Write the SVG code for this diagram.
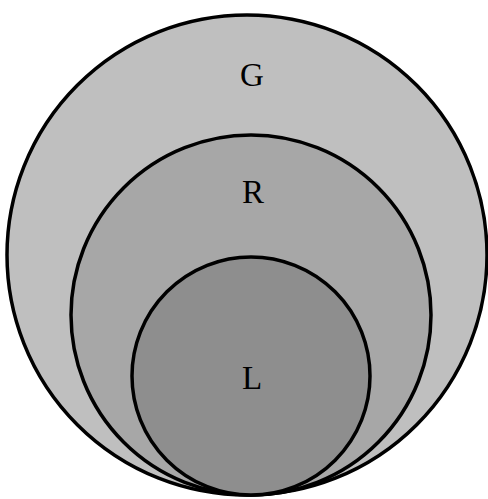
<svg xmlns="http://www.w3.org/2000/svg" width="488" height="499" viewBox="0 0 488 499">
<style>
.c{stroke:#000;stroke-width:3.5}
.t{font-family:"Liberation Serif",serif;font-size:33px;fill:#000;text-anchor:middle}
</style>
<rect width="488" height="499" fill="#fff"/>
<g id="G"><circle class="c" cx="247" cy="255" r="240" fill="#bfbfbf"/><text class="t" x="252" y="86">G</text></g>
<g id="R"><circle class="c" cx="251" cy="315" r="180" fill="#a7a7a7"/><text class="t" x="253" y="203">R</text></g>
<g id="L"><circle class="c" cx="251" cy="376" r="119" fill="#8e8e8e"/><text class="t" x="252" y="389">L</text></g>
<g id="connectors"/>
</svg>
